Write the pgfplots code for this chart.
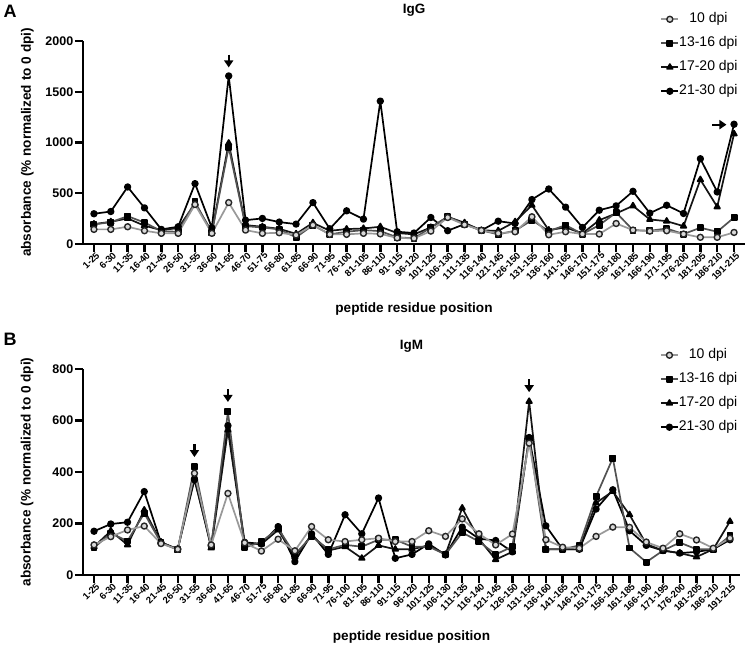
\documentclass[border=0pt]{standalone}
\usepackage{pgfplots}
\pgfplotsset{compat=1.18}
\usepackage{pgfplotstable}
\usepackage{fontspec}
\setmainfont{Liberation Sans}
\usetikzlibrary{arrows.meta}

% IgG absorbance per overlapping peptide (columns: 10, 13-16, 17-20, 21-30 dpi)
\pgfplotstableread{
idx d10 d13 d17 d21
0 144 193 196 298
1 144 215 219 320
2 170 274 252 562
3 131 212 180 356
4 105 127 137 144
5 105 120 157 170
6 389 415 399 595
7 105 110 120 160
8 408 954 993 1656
9 137 176 186 235
10 105 163 170 252
11 111 144 150 216
12 88 66 100 196
13 186 186 209 408
14 95 95 130 150
15 95 121 147 327
16 105 137 153 245
17 100 127 170 1408
18 60 66 108 121
19 56 56 95 108
20 127 163 163 261
21 261 268 268 131
22 190 196 209 196
23 134 134 134 134
24 105 95 130 225
25 120 131 219 202
26 268 235 382 438
27 91 127 137 542
28 121 186 163 363
29 98 98 105 163
30 98 186 235 333
31 202 310 301 376
32 137 137 376 519
33 127 130 242 304
34 131 153 225 382
35 98 98 176 301
36 66 160 634 840
37 66 121 366 513
38 114 261 1085 1180
}\iggdata

% IgM absorbance per overlapping peptide
\pgfplotstableread{
idx d10 d13 d17 d21
0 117 106 110 170
1 149 162 171 198
2 175 132 117 205
3 190 240 252 324
4 122 125 128 126
5 100 98 99 101
6 395 420 380 370
7 117 110 105 114
8 317 634 563 580
9 125 106 120 127
10 93 129 120 121
11 139 181 175 188
12 94 80 70 52
13 188 150 155 160
14 137 100 95 80
15 130 117 110 234
16 137 110 65 160
17 143 137 115 299
18 130 137 100 65
19 130 110 100 80
20 172 110 115 121
21 150 80 80 78
22 218 165 260 186
23 160 130 140 141
24 117 80 60 134
25 159 110 90 90
26 512 530 674 534
27 137 100 100 191
28 108 100 100 100
29 104 115 100 100
30 150 305 280 256
31 186 454 325 331
32 185 105 234 172
33 128 50 120 115
34 104 95 95 95
35 160 126 85 85
36 136 100 70 90
37 104 100 100 100
38 143 152 208 137
}\igmdata

\tikzset{pointer/.style={line width=2.2pt, -{Triangle[length=7pt, width=9pt]}}}

\pgfplotsset{
  prism/.style={
    scale only axis,
    axis x line*=bottom,
    axis y line*=left,
    axis line style={line width=2.4pt, -},
    major tick style={line width=2.4pt, black},
    major tick length=8pt,
    tick align=outside,
    xtick={0,...,38},
    xticklabels={1-25,6-30,11-35,16-40,21-45,26-50,31-55,36-60,41-65,46-70,
      51-75,56-80,61-85,66-90,71-95,76-100,81-105,86-110,91-115,96-120,
      101-125,106-130,111-135,116-140,121-145,126-150,131-155,136-160,
      141-165,146-170,151-175,156-180,161-185,166-190,171-195,176-200,
      181-205,186-210,191-215},
    xticklabel style={rotate=45, anchor=north east, inner sep=0.5pt,
      xshift=2pt, font=\bfseries\fontsize{9.5}{10}\selectfont},
    yticklabel style={font=\bfseries\fontsize{12.5}{13}\selectfont, inner sep=1.5pt},
    /pgf/number format/assume math mode=true,
    /pgf/number format/1000 sep={},
    label style={font=\bfseries\fontsize{13.6}{15}\selectfont},
    title style={font=\bfseries\fontsize{13.5}{15}\selectfont, anchor=center},
    xlabel={peptide residue position},
    ylabel={absorbance (\% normalized to 0 dpi)},
    clip=false,
    reverse legend,
    legend style={draw=none, fill=none, inner sep=0pt, anchor=north west,
      font=\fontsize{14}{16}\selectfont,
      nodes={text height=10pt, text depth=3pt, inner sep=0pt},
      row sep=11pt,
      /tikz/every even column/.append style={column sep=8pt}},
    every axis plot/.append style={line width=1.7pt, line join=round},
  },
  s10/.style={color=black!40, mark=*, mark size=3pt,
    mark options={draw=black!85, fill=black!15, line width=1.4pt}},
  s13/.style={color=black!68, mark=square*, mark size=2.6pt,
    mark options={draw=black, fill=black}},
  s17/.style={color=black!92, mark=triangle*, mark size=3.2pt,
    mark options={draw=black, fill=black}},
  s21/.style={color=black, mark=*, mark size=2.8pt,
    mark options={draw=black, fill=black}},
}

\begin{document}
\begin{tikzpicture}
\path[use as bounding box] (0pt,0pt) rectangle (750pt,-651pt);

\node[font=\bfseries\fontsize{18}{18}\selectfont] at (10pt,-11pt) {A};
\node[font=\bfseries\fontsize{18}{18}\selectfont] at (10pt,-339pt) {B};

% IgG panel
\begin{axis}[prism,
  at={(83pt,-244pt)}, anchor=south west,
  width=662pt, height=203pt,
  xmin=-0.65, xmax=38.65, ymin=0, ymax=2000,
  ytick={0,500,1000,1500,2000},
  title={IgG},
  title style={at={(axis description cs:0.5,1.123)}},
  xlabel style={at={(axis description cs:0.5,-0.32)}, anchor=center},
  ylabel style={at={(axis description cs:-0.084,0.5)}, anchor=center},
  legend style={at={(axis description cs:0.872,1.140)}},
]
\addplot[s21] table[x=idx, y=d21] {\iggdata};
\addplot[s17] table[x=idx, y=d17] {\iggdata};
\addplot[s13] table[x=idx, y=d13] {\iggdata};
\addplot[s10] table[x=idx, y=d10] {\iggdata};
\legend{21-30 dpi,17-20 dpi,13-16 dpi,10 dpi}
\draw[pointer] (axis cs:8,1865) -- (axis cs:8,1740);
\draw[pointer] (axis cs:36.7,1176) -- (axis cs:37.55,1176);
\end{axis}

% IgM panel
\begin{axis}[prism,
  at={(83pt,-575pt)}, anchor=south west,
  width=657pt, height=206pt,
  xmin=-0.66, xmax=38.6, ymin=0, ymax=800,
  ytick={0,200,400,600,800},
  title={IgM},
  title style={at={(axis description cs:0.5,1.083)}},
  xlabel style={at={(axis description cs:0.5,-0.30)}, anchor=center},
  ylabel style={at={(axis description cs:-0.085,0.5)}, anchor=center},
  legend style={at={(axis description cs:0.878,1.0995)}},
]
\addplot[s21] table[x=idx, y=d21] {\igmdata};
\addplot[s17] table[x=idx, y=d17] {\igmdata};
\addplot[s13] table[x=idx, y=d13] {\igmdata};
\addplot[s10] table[x=idx, y=d10] {\igmdata};
\legend{21-30 dpi,17-20 dpi,13-16 dpi,10 dpi}
\draw[pointer] (axis cs:6,508) -- (axis cs:6,458);
\draw[pointer] (axis cs:8,722) -- (axis cs:8,672);
\draw[pointer] (axis cs:26,760) -- (axis cs:26,710);
\end{axis}
\end{tikzpicture}
\end{document}
